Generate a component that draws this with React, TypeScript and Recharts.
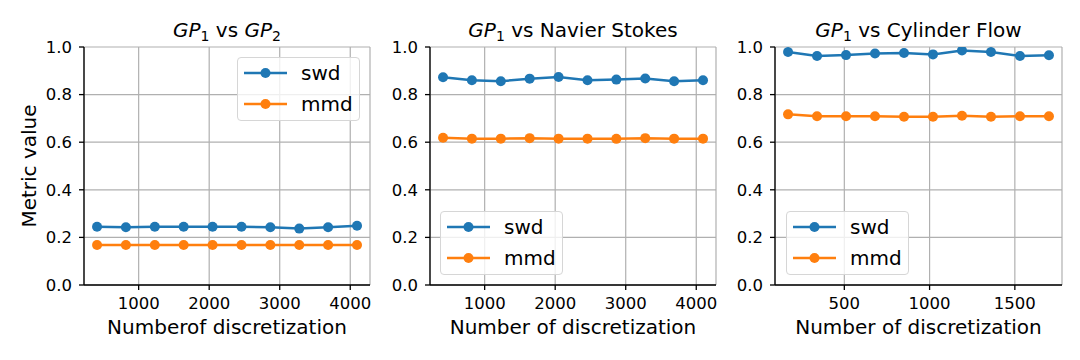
import React from "react";
import { LineChart, Line, XAxis, YAxis, CartesianGrid } from "recharts";

// 系列名と色
const seriesNames = ["swd", "mmd"];
const seriesColors = ["#1f77b4", "#ff7f0e"];

// 離散化数（x軸）
const gpSizes = [410, 819, 1229, 1638, 2048, 2458, 2867, 3277, 3686, 4096];
const cylinderSizes = [170, 340, 510, 680, 850, 1020, 1190, 1360, 1530, 1700];

// GP1 vs GP2
const gpSwd = [0.245, 0.243, 0.245, 0.245, 0.245, 0.245, 0.243, 0.237, 0.243, 0.249];
const gpMmd = [0.168, 0.168, 0.168, 0.168, 0.168, 0.168, 0.168, 0.168, 0.168, 0.168];

// GP1 vs Navier Stokes
const nsSwd = [0.873, 0.86, 0.856, 0.867, 0.874, 0.86, 0.863, 0.868, 0.856, 0.86];
const nsMmd = [0.619, 0.615, 0.615, 0.617, 0.615, 0.615, 0.614, 0.617, 0.615, 0.615];

// GP1 vs Cylinder Flow
const cfSwd = [0.979, 0.962, 0.966, 0.973, 0.975, 0.969, 0.985, 0.979, 0.962, 0.965];
const cfMmd = [0.717, 0.709, 0.709, 0.709, 0.707, 0.707, 0.711, 0.707, 0.709, 0.709];

// 目盛り
const yTicks = [0, 0.2, 0.4, 0.6, 0.8, 1.0];
const gpTicks = [1000, 2000, 3000, 4000];
const cylinderTicks = [500, 1000, 1500];

const FONT = "'DejaVu Sans', sans-serif";

const gpTitle = (
  <>
    <i>GP</i>
    <sub style={{ fontSize: 14, verticalAlign: "-4px", lineHeight: 0 }}>1</sub> vs{" "}
    <i>GP</i>
    <sub style={{ fontSize: 14, verticalAlign: "-4px", lineHeight: 0 }}>2</sub>
  </>
);
const nsTitle = (
  <>
    <i>GP</i>
    <sub style={{ fontSize: 14, verticalAlign: "-4px", lineHeight: 0 }}>1</sub> vs Navier Stokes
  </>
);
const cfTitle = (
  <>
    <i>GP</i>
    <sub style={{ fontSize: 14, verticalAlign: "-4px", lineHeight: 0 }}>1</sub> vs Cylinder Flow
  </>
);

interface PanelProps {
  left: number;
  width: number;
  plotLeft: number;
  rightMargin: number;
  title: React.ReactNode;
  xLabel: string;
  xs: number[];
  swd: number[];
  mmd: number[];
  xDomain: [number, number];
  xTicks: number[];
  legendLeft: number;
  legendTop: number;
  yLabel?: string;
}

/**
 * 凡例ボックス（matplotlib風）
 */
function LegendBox({ left, top }: { left: number; top: number }) {
  return (
    <div
      style={{
        position: "absolute",
        left,
        top,
        width: 123,
        height: 64,
        boxSizing: "border-box",
        border: "1px solid #d6d6d6",
        borderRadius: 4,
        background: "rgba(255,255,255,0.8)",
        fontFamily: FONT,
      }}
    >
      {seriesNames.map((name, i) => (
        <div
          key={name}
          style={{ position: "absolute", left: 0, top: i * 31, height: 30, display: "flex", alignItems: "center" }}
        >
          <svg width={60} height={30}>
            <line x1={6} x2={49} y1={15} y2={15} stroke={seriesColors[i]} strokeWidth={2.5} />
            <circle cx={27.5} cy={15} r={5} fill={seriesColors[i]} />
          </svg>
          <span style={{ fontSize: 20, marginLeft: 3, color: "#000" }}>{name}</span>
        </div>
      ))}
    </div>
  );
}

function Panel(props: PanelProps) {
  const { left, width, plotLeft, rightMargin, title, xLabel, xs, swd, mmd, xDomain, xTicks, legendLeft, legendTop, yLabel } = props;
  const data = xs.map((x, i) => ({ x, swd: swd[i], mmd: mmd[i] }));
  const plotWidth = width - plotLeft - rightMargin;

  return (
    <div style={{ position: "absolute", left, top: 0, width, height: 360, fontFamily: FONT }}>
      {/* タイトル */}
      <div
        style={{
          position: "absolute",
          left: plotLeft,
          top: 20,
          width: plotWidth,
          textAlign: "center",
          fontSize: 20,
          lineHeight: "20px",
          whiteSpace: "nowrap",
        }}
      >
        {title}
      </div>

      {/* y軸ラベル */}
      {yLabel && (
        <div
          style={{
            position: "absolute",
            left: 29 - 100,
            top: 166 - 12,
            width: 200,
            height: 24,
            lineHeight: "24px",
            textAlign: "center",
            fontSize: 20,
            transform: "rotate(-90deg)",
          }}
        >
          {yLabel}
        </div>
      )}

      <LineChart
        width={width}
        height={360}
        data={data}
        margin={{ top: 47, right: rightMargin, bottom: 0, left: 0 }}
        style={{ position: "absolute", left: 0, top: 0 }}
      >
        <CartesianGrid stroke="#b0b0b0" strokeWidth={1.2} />
        <XAxis
          dataKey="x"
          type="number"
          domain={xDomain}
          ticks={xTicks}
          allowDataOverflow
          interval={0}
          height={75}
          tickSize={5}
          tickMargin={7}
          stroke="#000"
          strokeWidth={1.3}
          tick={{ fill: "#000", fontSize: 16.5, fontFamily: FONT }}
          label={{ value: xLabel, position: "insideBottom", offset: 26, fill: "#000", fontSize: 20, fontFamily: FONT }}
        />
        <XAxis
          xAxisId="top"
          orientation="top"
          dataKey="x"
          type="number"
          domain={xDomain}
          allowDataOverflow
          height={0}
          tick={false}
          tickLine={false}
          stroke="#000"
          strokeWidth={1.3}
        />
        <YAxis
          domain={[0, 1]}
          ticks={yTicks}
          allowDataOverflow
          interval={0}
          width={plotLeft}
          tickSize={5}
          tickMargin={7}
          stroke="#000"
          strokeWidth={1.3}
          tickFormatter={(v: number) => v.toFixed(1)}
          tick={{ fill: "#000", fontSize: 16.5, fontFamily: FONT }}
        />
        <YAxis
          yAxisId="right"
          orientation="right"
          domain={[0, 1]}
          width={0}
          tick={false}
          tickLine={false}
          stroke="#000"
          strokeWidth={1.3}
        />
        {seriesNames.map((name, i) => (
          <Line
            key={name}
            dataKey={name}
            stroke={seriesColors[i]}
            strokeWidth={2.5}
            dot={{ r: 5, fill: seriesColors[i], stroke: seriesColors[i], strokeWidth: 0 }}
            activeDot={false}
            isAnimationActive={false}
          />
        ))}
      </LineChart>

      <LegendBox left={legendLeft} top={legendTop} />
    </div>
  );
}

export default function App() {
  return (
    <div style={{ position: "absolute", left: 0, top: 0, width: 1080, height: 360, background: "#fff" }}>
      <Panel
        left={0}
        width={380}
        plotLeft={84}
        rightMargin={10}
        title={gpTitle}
        xLabel="Numberof discretization"
        yLabel="Metric value"
        xs={gpSizes}
        swd={gpSwd}
        mmd={gpMmd}
        xDomain={[225, 4280]}
        xTicks={gpTicks}
        legendLeft={237}
        legendTop={57}
      />
      <Panel
        left={380}
        width={345}
        plotLeft={50}
        rightMargin={9}
        title={nsTitle}
        xLabel="Number of discretization"
        xs={gpSizes}
        swd={nsSwd}
        mmd={nsMmd}
        xDomain={[225, 4280]}
        xTicks={gpTicks}
        legendLeft={60}
        legendTop={211}
      />
      <Panel
        left={725}
        width={355}
        plotLeft={50}
        rightMargin={18}
        title={cfTitle}
        xLabel="Number of discretization"
        xs={cylinderSizes}
        swd={cfSwd}
        mmd={cfMmd}
        xDomain={[93.5, 1776.5]}
        xTicks={cylinderTicks}
        legendLeft={61}
        legendTop={211}
      />
    </div>
  );
}
